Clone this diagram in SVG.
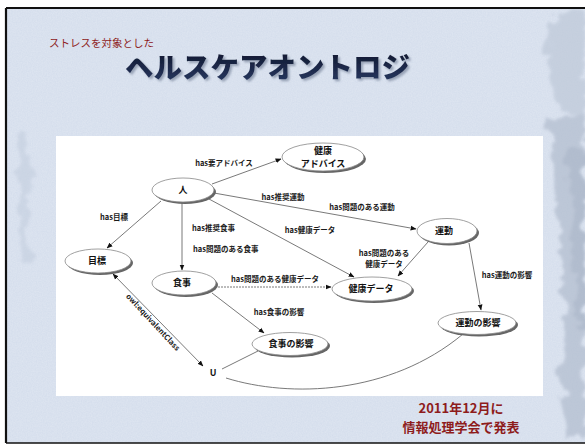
<svg xmlns="http://www.w3.org/2000/svg" width="585" height="445" viewBox="0 0 585 445">
<defs>
<filter id="noise" x="0" y="0" width="100%" height="100%">
<feTurbulence type="fractalNoise" baseFrequency="0.8" numOctaves="2" seed="4"/>
<feColorMatrix type="matrix" values="0 0 0 0 0.55  0 0 0 0 0.63  0 0 0 0 0.78  0 0 0 0.45 0"/>
</filter>
<filter id="wash" x="-20%" y="-20%" width="140%" height="140%">
<feTurbulence type="fractalNoise" baseFrequency="0.06" numOctaves="3" seed="7" result="t"/>
<feDisplacementMap in="SourceGraphic" in2="t" scale="22"/>
<feGaussianBlur stdDeviation="1.5"/>
</filter>
<filter id="tshadow" x="-10%" y="-30%" width="120%" height="160%">
<feGaussianBlur in="SourceAlpha" stdDeviation="1.2"/>
<feOffset dx="1.5" dy="1.5" result="b"/>
<feFlood flood-color="#6b7890" flood-opacity="0.6"/>
<feComposite in2="b" operator="in"/>
<feMerge><feMergeNode/><feMergeNode in="SourceGraphic"/></feMerge>
</filter>
<linearGradient id="tgrad" x1="0" y1="0" x2="0" y2="1">
<stop offset="0" stop-color="#0c1226"/>
<stop offset="1" stop-color="#2a3b66"/>
</linearGradient>
<marker id="ah" viewBox="0 0 10 10" refX="9" refY="5" markerWidth="6" markerHeight="6" markerUnits="userSpaceOnUse" orient="auto-start-reverse">
<path d="M0,1 L10,5 L0,9 z" fill="#111"/>
</marker>
<style>
.edge{fill:none;stroke:#6a6a6a;stroke-width:0.9}
.lbl{font-family:"Noto Sans CJK JP","Liberation Serif",sans-serif;font-size:7.5px;font-weight:bold;fill:#1a1a1a}
.nshadow{fill:#666;stroke:none}
.nbody{fill:#fff;stroke:#888;stroke-width:0.8}
.ntxt{font-family:"Noto Sans CJK JP",sans-serif;font-size:9px;font-weight:bold;fill:#111;text-anchor:middle}
.red{font-family:"Noto Sans CJK JP",sans-serif;fill:#8e1c1c}
</style>
</defs>

<!-- background -->
<rect x="0" y="0" width="585" height="445" fill="#ffffff"/>
<rect x="6" y="8" width="585" height="435" fill="#dfe6f1"/>
<rect x="6" y="8" width="585" height="435" filter="url(#noise)"/>
<g filter="url(#wash)" opacity="0.6">
<path d="M548 120 C560 160 552 220 562 270 C570 320 556 370 566 440 L585 440 L585 110 Z" fill="#aab6c8"/>
<path d="M555 10 C540 40 548 80 560 110 L585 115 L585 10 Z" fill="#b9c4d4"/>
<path d="M565 150 C575 200 570 260 578 330 L585 330 L585 150 Z" fill="#98a5b9"/>
<path d="M18 135 C24 170 16 220 24 265 L30 265 C28 220 34 170 28 135 Z" fill="#c3cede"/>
</g>
<line x1="6" y1="8" x2="585" y2="8" stroke="#111" stroke-width="2"/>
<line x1="6" y1="8" x2="6" y2="443" stroke="#111" stroke-width="2.2"/>
<line x1="6" y1="443" x2="585" y2="443" stroke="#111" stroke-width="1.5"/>

<!-- title -->
<text class="red" x="49" y="47" font-size="10.5">ストレスを対象とした</text>
<text x="125" y="78" font-family="'Noto Sans CJK JP',sans-serif" font-size="28.5" font-weight="900" fill="url(#tgrad)" filter="url(#tshadow)">ヘルスケアオントロジ</text>

<!-- white panel -->
<rect x="56" y="136" width="487" height="260" fill="#ffffff"/>

<!-- connectors -->
<g id="connectors">
<line class="edge" x1="212" y1="184" x2="281" y2="159" marker-end="url(#ah)"/>
<line class="edge" x1="214" y1="193" x2="416" y2="229" marker-end="url(#ah)"/>
<line class="edge" x1="209" y1="199" x2="354" y2="277" marker-end="url(#ah)"/>
<line class="edge" x1="161" y1="201" x2="107" y2="248" marker-end="url(#ah)"/>
<line class="edge" x1="182" y1="203" x2="182" y2="270" marker-end="url(#ah)"/>
<line class="edge" x1="218" y1="287" x2="331" y2="287" stroke-dasharray="2 1" marker-end="url(#ah)"/>
<line class="edge" x1="428" y1="242" x2="398" y2="276" marker-end="url(#ah)"/>
<line class="edge" x1="469" y1="243" x2="481" y2="310" marker-end="url(#ah)"/>
<line class="edge" x1="212" y1="293" x2="264" y2="333" marker-end="url(#ah)"/>
<line class="edge" x1="113" y1="274" x2="203" y2="366" marker-start="url(#ah)" marker-end="url(#ah)"/>
<line class="edge" x1="222" y1="369" x2="258" y2="351"/>
<path class="edge" d="M226 378 C290 398 390 395 463 334"/>
<text class="lbl" x="224" y="166" text-anchor="middle">has要アドバイス</text>
<text class="lbl" x="283" y="200" text-anchor="middle">has推奨運動</text>
<text class="lbl" x="362" y="210" text-anchor="middle">has問題のある運動</text>
<text class="lbl" x="310" y="233" text-anchor="middle">has健康データ</text>
<text class="lbl" x="114" y="220" text-anchor="middle">has目標</text>
<text class="lbl" x="192" y="231">has推奨食事</text>
<text class="lbl" x="193" y="252">has問題のある食事</text>
<text class="lbl" x="275" y="282" text-anchor="middle">has問題のある健康データ</text>
<text class="lbl" x="384" y="256" text-anchor="middle">has問題のある</text>
<text class="lbl" x="384" y="267" text-anchor="middle">健康データ</text>
<text class="lbl" x="507" y="278" text-anchor="middle">has運動の影響</text>
<text class="lbl" x="279" y="315" text-anchor="middle">has食事の影響</text>
<text class="lbl" x="0" y="0" text-anchor="middle" transform="translate(151 324) rotate(47)">owl:equivalentClass</text>
</g>

<!-- nodes -->
<g id="n-hito">
<ellipse class="nshadow" cx="185" cy="192" rx="31" ry="12"/>
<ellipse class="nbody" cx="183" cy="190" rx="31" ry="12"/>
<text class="ntxt" x="183" y="193">人</text>
</g>
<g id="n-advice">
<ellipse class="nshadow" cx="325" cy="159" rx="41" ry="14"/>
<ellipse class="nbody" cx="323" cy="157" rx="41" ry="14"/>
<text class="ntxt" x="323" y="154" font-size="8.5">健康</text>
<text class="ntxt" x="323" y="167" font-size="8.5">アドバイス</text>
</g>
<g id="n-undo">
<ellipse class="nshadow" cx="449" cy="233" rx="30" ry="12.5"/>
<ellipse class="nbody" cx="447" cy="231" rx="30" ry="12.5"/>
<text class="ntxt" x="444" y="234">運動</text>
</g>
<g id="n-mokuhyo">
<ellipse class="nshadow" cx="100" cy="263" rx="33" ry="12"/>
<ellipse class="nbody" cx="98" cy="261" rx="33" ry="12"/>
<text class="ntxt" x="97" y="264">目標</text>
</g>
<g id="n-shokuji">
<ellipse class="nshadow" cx="186" cy="285" rx="32" ry="12"/>
<ellipse class="nbody" cx="184" cy="283" rx="32" ry="12"/>
<text class="ntxt" x="182" y="286">食事</text>
</g>
<g id="n-data">
<ellipse class="nshadow" cx="374" cy="291" rx="40" ry="12"/>
<ellipse class="nbody" cx="372" cy="289" rx="40" ry="12"/>
<text class="ntxt" x="371" y="292">健康データ</text>
</g>
<g id="n-undo-eikyo">
<ellipse class="nshadow" cx="479" cy="325" rx="39" ry="11.5"/>
<ellipse class="nbody" cx="477" cy="323" rx="39" ry="11.5"/>
<text class="ntxt" x="478" y="326">運動の影響</text>
</g>
<g id="n-shokuji-eikyo">
<ellipse class="nshadow" cx="292" cy="346" rx="38" ry="11.5"/>
<ellipse class="nbody" cx="290" cy="344" rx="38" ry="11.5"/>
<text class="ntxt" x="291" y="347">食事の影響</text>
</g>
<g id="n-union">
<text class="ntxt" x="213" y="376" font-weight="normal" font-size="8">U</text>
</g>

<!-- footer -->
<text class="red" x="461" y="413" font-size="13" font-weight="bold" text-anchor="middle">2011年12月に</text>
<text class="red" x="461" y="432" font-size="13" font-weight="bold" text-anchor="middle">情報処理学会で発表</text>
</svg>
